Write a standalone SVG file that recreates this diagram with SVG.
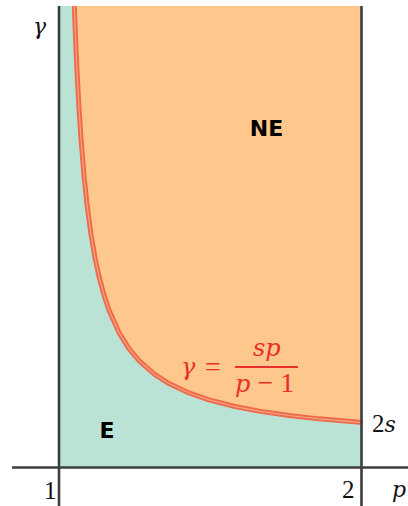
<svg xmlns="http://www.w3.org/2000/svg" width="408" height="506" viewBox="0 0 408 506">
<style>
.axis{stroke:#3d3d3d;stroke-width:2.6;fill:none}
.math{font-family:Liberation Serif;font-size:25px;fill:#111}
.it{font-family:DejaVu Serif;font-style:italic;font-size:22px}
.red{fill:#e8302a}
.big{font-size:28px}
.bigit{font-size:24px}
.lbl{font-family:DejaVu Sans;font-weight:bold;font-size:22px;fill:#000;text-anchor:middle}
</style>
<g id="regions">
<rect id="E-region" x="59" y="6" width="302.5" height="461" fill="#bae3d6"/>
<path id="NE-region" d="M74.34 6 L75 24.09 L76 48.83 L77 70.83 L79 108.22 L81 138.81 L84 175.53 L87 204.37 L91 234.42 L95 257.79 L99 276.48 L104 295.18 L109 310.14 L119 332.57 L129 348.6 L139 360.62 L154 373.9 L169 383.56 L189 392.98 L209 399.88 L234 406.29 L259 411.1 L289 415.49 L319 418.86 L361.5 422.5 L361.5 6 Z" fill="#fec78b"/>
</g>
<g id="connectors">
<path id="curve" d="M74.34 6 L75 24.09 L76 48.83 L77 70.83 L79 108.22 L81 138.81 L84 175.53 L87 204.37 L91 234.42 L95 257.79 L99 276.48 L104 295.18 L109 310.14 L119 332.57 L129 348.6 L139 360.62 L154 373.9 L169 383.56 L189 392.98 L209 399.88 L234 406.29 L259 411.1 L289 415.49 L319 418.86 L363 422.6" fill="none" stroke="#ee6a48" stroke-width="5" stroke-linejoin="round"/>
<path d="M74.34 6 L75 24.09 L76 48.83 L77 70.83 L79 108.22 L81 138.81 L84 175.53 L87 204.37 L91 234.42 L95 257.79 L99 276.48 L104 295.18 L109 310.14 L119 332.57 L129 348.6 L139 360.62 L154 373.9 L169 383.56 L189 392.98 L209 399.88 L234 406.29 L259 411.1 L289 415.49 L319 418.86 L363 422.6" fill="none" stroke="#f6a487" stroke-width="1.2" stroke-linejoin="round"/>
<line class="axis" x1="59" y1="6" x2="59" y2="506"/>
<line class="axis" x1="361.5" y1="6" x2="361.5" y2="506"/>
<line class="axis" x1="12" y1="467.5" x2="408" y2="467.5"/>
</g>
<g id="labels">
<text class="math it" x="33" y="34" font-family="DejaVu Serif">γ</text>
<text class="math" x="44" y="499" font-family="Liberation Serif">1</text>
<text class="math" x="342" y="498" font-family="Liberation Serif">2</text>
<text class="math it" x="392" y="497" font-family="DejaVu Serif">p</text>
<text class="math" x="372" y="432" font-family="Liberation Serif">2<tspan class="it" font-family="DejaVu Serif">s</tspan></text>
<text class="lbl" x="266.5" y="136" font-family="DejaVu Sans">NE</text>
<text class="lbl" x="107" y="438" font-family="DejaVu Sans">E</text>
</g>
<g id="formula">
<text class="math it bigit red" x="181" y="375" font-family="DejaVu Serif">γ</text>
<text class="math big red" x="205" y="376" font-family="Liberation Serif">=</text>
<rect x="235" y="366" width="63" height="2" fill="#e8302a"/>
<text class="math it bigit red" x="253" y="356" font-family="DejaVu Serif">sp</text>
<text class="math big red" x="235" y="392" font-family="Liberation Serif"><tspan class="it bigit" font-family="DejaVu Serif">p</tspan> − 1</text>
</g>
</svg>
